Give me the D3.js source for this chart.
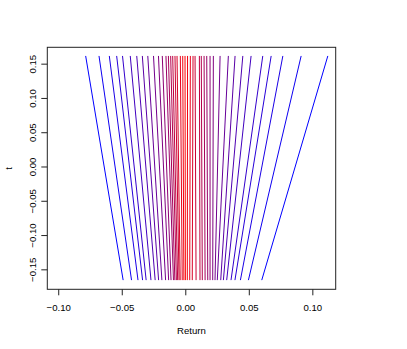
<!DOCTYPE html>
<html>
<head>
<meta charset="utf-8">
<script src="https://cdn.jsdelivr.net/npm/d3@7"></script>
<style>
	body { margin: 0; background: #fff; }
	text { font-family: "Liberation Sans", Arial, sans-serif; fill: #000; }
</style>
</head>
<body>
<svg id="chart" width="407" height="349"></svg>
<script>
	// t runs from tLow (bottom end of each line) to tHigh (top end)
	var tLow = -0.165,
		tHigh = 0.162;

	// Return at the bottom (t = tLow) and top (t = tHigh) of each line, left to right
	var retBottom = [-0.0493, -0.0427, -0.0376, -0.0340, -0.0312, -0.0274, -0.0241, -0.0214, -0.0188, -0.0159,
		-0.0135, -0.0116, -0.0097, -0.0086, -0.0074, -0.0064, -0.0053, -0.0044, -0.0028, -0.0015,
		-0.0003,
		0.0012, 0.0031, 0.0051, 0.0081, 0.0112, 0.0130, 0.0152, 0.0173, 0.0191, 0.0212,
		0.0230, 0.0248, 0.0275, 0.0296, 0.0322, 0.0356, 0.0387, 0.0430, 0.0493, 0.0598];
	var retTop = [-0.0788, -0.0683, -0.0602, -0.0544, -0.0498, -0.0437, -0.0386, -0.0342, -0.0299, -0.0254,
		-0.0215, -0.0185, -0.0156, -0.0137, -0.0119, -0.0103, -0.0085, -0.0069, -0.0043, -0.0024,
		-0.0006,
		0.0014, 0.0036, 0.0057, 0.0073, 0.0107, 0.0122, 0.0144, 0.0165, 0.0191, 0.0217,
		0.0270, 0.0335, 0.0388, 0.0449, 0.0514, 0.0606, 0.0672, 0.0764, 0.0908, 0.1118];
	var centreLine = 20; // index of the middle (red) line; colour fades to blue outward

	var xTicks = [-0.10, -0.05, 0.00, 0.05, 0.10],
		yTicks = [-0.15, -0.10, -0.05, 0.00, 0.05, 0.10, 0.15];

	(function(){
		var svg = d3.select("#chart"),
			pl = 47.3, pr = 335.7, pt = 47.3, pb = 289.3;

		var x = d3.scaleLinear().domain([-0.109, 0.118]).range([pl, pr]),
			y = d3.scaleLinear().domain([-0.1784, 0.1746]).range([pb, pt]);

		var fmt = function(d){ return d3.format(".2f")(d).replace("-", "\u2212"); };

		var maxDist = d3.max(retTop, function(d, i){ return Math.abs(i - centreLine); });
		var colour = function(i){
			return d3.interpolateRgb("red", "blue")(Math.abs(i - centreLine) / maxDist);
		};

		var lines = retTop.map(function(d, i){ return {i: i, top: d, bottom: retBottom[i]}; });

		svg.append("g")
			.selectAll("line")
			.data(lines)
			.enter()
			.append("line")
			.attr("x1", function(d){ return x(d.bottom); })
			.attr("y1", y(tLow))
			.attr("x2", function(d){ return x(d.top); })
			.attr("y2", y(tHigh))
			.attr("stroke", function(d){ return colour(d.i); })
			.attr("stroke-width", 1);

		// box
		svg.append("rect")
			.attr("x", pl).attr("y", pt)
			.attr("width", pr - pl).attr("height", pb - pt)
			.attr("fill", "none").attr("stroke", "#222").attr("stroke-width", 1);

		// x axis
		var gx = svg.append("g").attr("transform", "translate(0," + pb + ")");
		gx.selectAll("line")
			.data(xTicks).enter().append("line")
			.attr("x1", x).attr("x2", x)
			.attr("y1", 0).attr("y2", 6)
			.attr("stroke", "#222");
		gx.selectAll("text")
			.data(xTicks).enter().append("text")
			.attr("x", x).attr("y", 22)
			.attr("text-anchor", "middle")
			.style("font-size", "9.6px")
			.text(fmt);

		// y axis
		var gy = svg.append("g").attr("transform", "translate(" + pl + ",0)");
		gy.selectAll("line")
			.data(yTicks).enter().append("line")
			.attr("y1", y).attr("y2", y)
			.attr("x1", 0).attr("x2", -6)
			.attr("stroke", "#222");
		gy.selectAll("text")
			.data(yTicks).enter().append("text")
			.attr("transform", function(d){ return "translate(-11.6," + y(d) + ") rotate(-90)"; })
			.attr("text-anchor", "middle")
			.style("font-size", "9.6px")
			.text(fmt);

		svg.append("text")
			.attr("x", (pl + pr) / 2).attr("y", 334)
			.attr("text-anchor", "middle")
			.style("font-size", "9.6px")
			.text("Return");

		svg.append("text")
			.attr("transform", "translate(12," + (pt + pb) / 2 + ") rotate(-90)")
			.attr("text-anchor", "middle")
			.style("font-size", "9.6px")
			.text("t");
	})();
</script>
</body>
</html>
